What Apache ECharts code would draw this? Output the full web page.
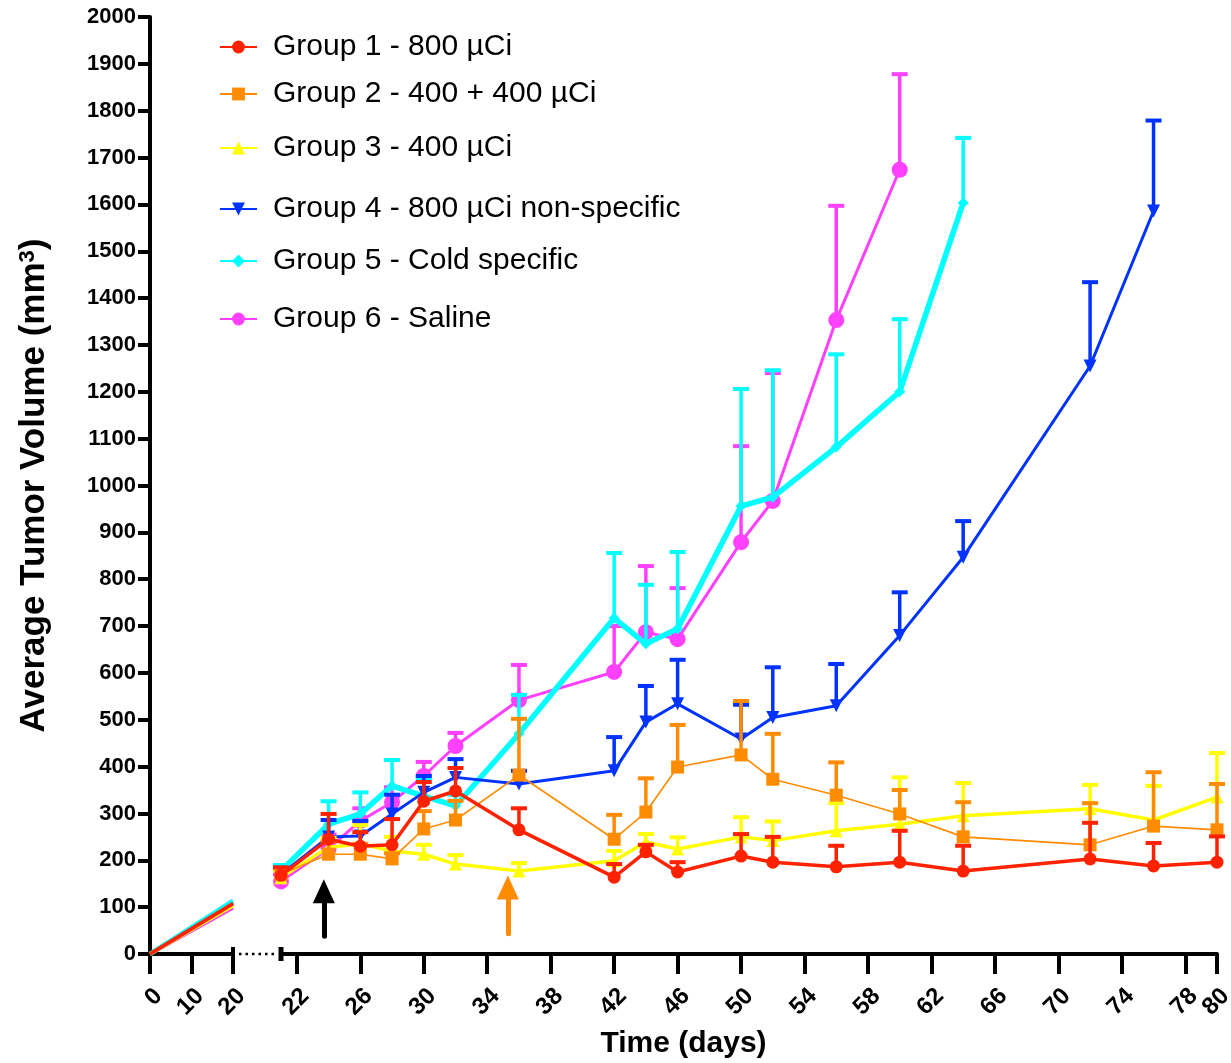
<!DOCTYPE html>
<html>
<head>
<meta charset="utf-8">
<script src="https://cdn.jsdelivr.net/npm/echarts@6/dist/echarts.min.js"></script>
<style>
  html, body { margin: 0; padding: 0; background: #ffffff; }
  #chart { width: 1231px; height: 1063px; }
</style>
</head>
<body>
<div id="chart"></div>
<script>
// Measurement days plotted on the expanded part of the time axis
const days = [21, 24, 26, 28, 30, 32, 36, 42, 44, 46, 50, 52, 56, 60, 64, 72, 76, 80];

// Tick labels of the two time-axis segments
const earlyTicks = [0, 10, 20];
const lateTicks = [22, 26, 30, 34, 38, 42, 46, 50, 54, 58, 62, 66, 70, 74, 78, 80];

const groupNames = [
  'Group 1 - 800 µCi',
  'Group 2 - 400 + 400 µCi',
  'Group 3 - 400 µCi',
  'Group 4 - 800 µCi non-specific',
  'Group 5 - Cold specific',
  'Group 6 - Saline'
];

// Mean tumour volume (mm3) and mean + SEM, one entry per measured day
const g1Mean  = [168, 245, 230, 233, 326, 348, 265, 164, 218, 175, 209, 196, 186, 196, 177, 203, 188, 196];
const g1Upper = [185, 299, 260, 288, 367, 397, 311, 192, 233, 196, 256, 250, 231, 263, 231, 280, 237, 251];

const g2Mean  = [170, 213, 213, 203, 267, 286, 382, 245, 303, 399, 425, 373, 339, 299, 250, 233, 273, 265];
const g2Upper = [183, 240, 235, 215, 305, 327, 502, 297, 375, 489, 540, 470, 409, 350, 324, 322, 388, 363];

const g3Mean  = [163, 228, 235, 220, 213, 192, 177, 199, 239, 224, 250, 242, 263, 277, 295, 310, 286, 335];
const g3Upper = [178, 248, 275, 250, 233, 211, 194, 220, 256, 249, 292, 283, 322, 377, 365, 361, 359, 429];

const g4Mean  = [170, 250, 252, 299, 345, 377, 363, 391, 495, 534, 459, 505, 530, 680, 847, 1255, 1586];
const g4Upper = [184, 286, 284, 340, 380, 416, 391, 463, 572, 628, 532, 612, 619, 772, 924, 1434, 1779];

const g5Mean  = [178, 277, 299, 359, 337, 316, 470, 717, 662, 694, 956, 975, 1082, 1200, 1603];
const g5Upper = [190, 326, 345, 414, 375, 340, 553, 856, 788, 858, 1206, 1246, 1280, 1355, 1742];

const g6Mean  = [155, 225, 284, 324, 380, 444, 542, 602, 687, 672, 879, 967, 1353, 1674];
const g6Upper = [170, 255, 311, 356, 410, 472, 617, 700, 828, 781, 1084, 1240, 1597, 1878];

// Volume each trace reaches where the compressed 0-20 day segment ends
const day20Volume = [107, 108, 103, 108, 113, 98];

// Dosing arrows: day, shaft base volume, arrow-head volume
const arrowDays = [23.7, 35.3];
const arrowBase = [38, 43];
const arrowHead = [134, 142];

const FONT = '"Liberation Sans", Arial, Helvetica, sans-serif';

const groups = [
  { mean: g1Mean, upper: g1Upper, color: '#FF2200', width: 3.5, symbol: 'circle',   size: 13, rotate: 0,   bar: 3.5 },
  { mean: g2Mean, upper: g2Upper, color: '#FF8C00', width: 1.6, symbol: 'rect',     size: 13, rotate: 0,   bar: 3.5 },
  { mean: g3Mean, upper: g3Upper, color: '#FFFF00', width: 3.5, symbol: 'triangle', size: 13, rotate: 0,   bar: 3.5 },
  { mean: g4Mean, upper: g4Upper, color: '#0033FF', width: 3,   symbol: 'triangle', size: 13, rotate: 180, bar: 3.5 },
  { mean: g5Mean, upper: g5Upper, color: '#00FFFF', width: 5.5, symbol: 'diamond',  size: 11, rotate: 0,   bar: 3.5 },
  { mean: g6Mean, upper: g6Upper, color: '#FF40FF', width: 3,   symbol: 'circle',   size: 16, rotate: 0,   bar: 3.5 }
];

// Later groups are drawn underneath earlier ones
const zOf = i => 10 + (5 - i) * 2;

const series = [];

groups.forEach((g, i) => {
  series.push({
    name: groupNames[i],
    type: 'line',
    xAxisIndex: 1,
    yAxisIndex: 1,
    data: g.mean.map((v, k) => [days[k], v]),
    symbol: g.symbol,
    symbolSize: g.size,
    symbolRotate: g.rotate,
    showAllSymbol: true,
    itemStyle: { color: g.color },
    lineStyle: { color: g.color, width: g.width },
    clip: false,
    z: zOf(i) + 1,
    emphasis: { disabled: true },
    animation: false
  });
});

groups.forEach((g, i) => {
  series.push({
    name: groupNames[i],
    type: 'custom',
    xAxisIndex: 1,
    yAxisIndex: 1,
    data: g.mean.map((v, k) => [days[k], v, g.upper[k]]),
    encode: { x: 0, y: 1 },
    z: zOf(i),
    silent: true,
    animation: false,
    renderItem: (params, api) => {
      const p0 = api.coord([api.value(0), api.value(1)]);
      const p1 = api.coord([api.value(0), api.value(2)]);
      const style = { stroke: g.color, lineWidth: g.bar, fill: null };
      return {
        type: 'group',
        children: [
          { type: 'line', shape: { x1: p0[0], y1: p0[1], x2: p1[0], y2: p1[1] }, style },
          { type: 'line', shape: { x1: p1[0] - 8, y1: p1[1], x2: p1[0] + 8, y2: p1[1] }, style: { stroke: g.color, lineWidth: 4 } }
        ]
      };
    }
  });
});

// Compressed 0-20 day segment: each trace rises from zero until the axis break
groups.forEach((g, i) => {
  series.push({
    name: groupNames[i],
    type: 'line',
    xAxisIndex: 0,
    yAxisIndex: 0,
    data: [[0, 0], [20, day20Volume[i]]],
    showSymbol: false,
    symbol: 'none',
    lineStyle: { color: g.color, width: i === 4 ? 5 : 3.5 },
    z: zOf(i) + 1,
    clip: false,
    emphasis: { disabled: true },
    animation: false
  });
});

// Dosing arrows
const arrowColors = ['#000000', '#FF8C00'];
series.push({
  type: 'line',
  xAxisIndex: 1,
  yAxisIndex: 1,
  data: [],
  silent: true,
  animation: false,
  markLine: {
    silent: true,
    animation: false,
    label: { show: false },
    symbol: ['none', 'triangle'],
    symbolSize: [22, 24],
    data: arrowDays.map((d, k) => [
      { coord: [d, arrowBase[k]], lineStyle: { color: arrowColors[k], width: 5, type: 'solid', cap: 'round' } },
      { coord: [d, arrowHead[k]] }
    ])
  }
});

const legendCenters = [44, 91, 145, 206, 258, 316];

const axisTextBase = { color: '#000', fontFamily: FONT, fontWeight: 'bold' };
const timeLabel = {
  rotate: 45, margin: 30, fontSize: 24, verticalAlign: 'top',
  showMinLabel: true, showMaxLabel: true, hideOverlap: false
};
const blackAxisLine = { show: true, onZero: false, lineStyle: { color: '#000', width: 4 } };

const option = {
  backgroundColor: '#ffffff',
  animation: false,
  grid: [
    { left: 150, width: 83, top: 17, bottom: 109, outerBoundsMode: 'none', containLabel: false },
    { left: 281, width: 936, top: 17, bottom: 109, outerBoundsMode: 'none', containLabel: false }
  ],
  xAxis: [
    {
      type: 'value', gridIndex: 0, position: 'bottom', min: 0, max: 20, interval: 10,
      axisLine: blackAxisLine,
      axisTick: { show: true, length: 20, customValues: earlyTicks, lineStyle: { color: '#000', width: 4 } },
      axisLabel: Object.assign({ customValues: earlyTicks }, timeLabel, axisTextBase),
      splitLine: { show: false }
    },
    {
      type: 'value', gridIndex: 1, position: 'bottom', min: 21, max: 80,
      axisLine: blackAxisLine,
      axisTick: { show: true, length: 20, customValues: lateTicks, lineStyle: { color: '#000', width: 4 } },
      axisLabel: Object.assign({ customValues: lateTicks.slice(0, -1) }, timeLabel, axisTextBase),
      splitLine: { show: false }
    },
    {
      // last label of the late segment sits tight against its neighbour
      type: 'value', gridIndex: 1, position: 'bottom', min: 21, max: 80,
      axisLine: { show: false },
      axisTick: { show: false },
      axisLabel: Object.assign({ customValues: lateTicks.slice(-1) }, timeLabel, axisTextBase),
      splitLine: { show: false }
    }
  ],
  yAxis: [
    {
      type: 'value', gridIndex: 0, min: 0, max: 2000, interval: 100,
      axisLine: blackAxisLine,
      axisTick: { show: true, length: 12, lineStyle: { color: '#000', width: 4 } },
      axisLabel: Object.assign({ margin: 14, fontSize: 22, formatter: v => String(v) }, axisTextBase),
      splitLine: { show: false },
      name: 'Average Tumor Volume (mm{sup|3})',
      nameLocation: 'middle',
      nameGap: 98,
      nameTextStyle: {
        color: '#000', fontFamily: FONT, fontWeight: 'bold', fontSize: 35,
        rich: { sup: { color: '#000', fontFamily: FONT, fontWeight: 'bold', fontSize: 22, verticalAlign: 'top' } }
      }
    },
    {
      type: 'value', gridIndex: 1, min: 0, max: 2000, interval: 100, show: false
    }
  ],
  legend: groupNames.map((name, i) => ({
    data: [name],
    left: 219,
    top: legendCenters[i] - 12,
    padding: 0,
    itemWidth: 37,
    itemHeight: 16,
    selectedMode: false,
    textStyle: { color: '#000', fontFamily: FONT, fontSize: 30, padding: [0, 0, 0, 11] }
  })),
  series: series
};

const chart = echarts.init(document.getElementById('chart'));
chart.setOption(option);

// Axis break marks and the shared time-axis title
const y0 = chart.convertToPixel({ yAxisIndex: 0 }, 0);
const x0 = chart.convertToPixel({ xAxisIndex: 0 }, 0);
const x20 = chart.convertToPixel({ xAxisIndex: 0 }, 20);
const x21 = chart.convertToPixel({ xAxisIndex: 1 }, 21);
const x80 = chart.convertToPixel({ xAxisIndex: 1 }, 80);

chart.setOption({
  graphic: [
    { type: 'line', silent: true, shape: { x1: x20 + 6, y1: y0, x2: x21 - 5, y2: y0 },
      style: { stroke: '#000', lineWidth: 2.5, lineDash: [2.5, 4] } },
    { type: 'line', silent: true, shape: { x1: x21, y1: y0 - 7, x2: x21, y2: y0 + 7 },
      style: { stroke: '#000', lineWidth: 5 } },
    { type: 'line', silent: true, shape: { x1: x20, y1: y0 - 7, x2: x20, y2: y0 },
      style: { stroke: '#000', lineWidth: 4 } },
    { type: 'text', silent: true, x: (x0 + x80) / 2, y: y0 + 90,
      style: { text: 'Time (days)', fill: '#000', font: 'bold 30px ' + FONT, align: 'center', verticalAlign: 'middle' } }
  ]
});
</script>
</body>
</html>
